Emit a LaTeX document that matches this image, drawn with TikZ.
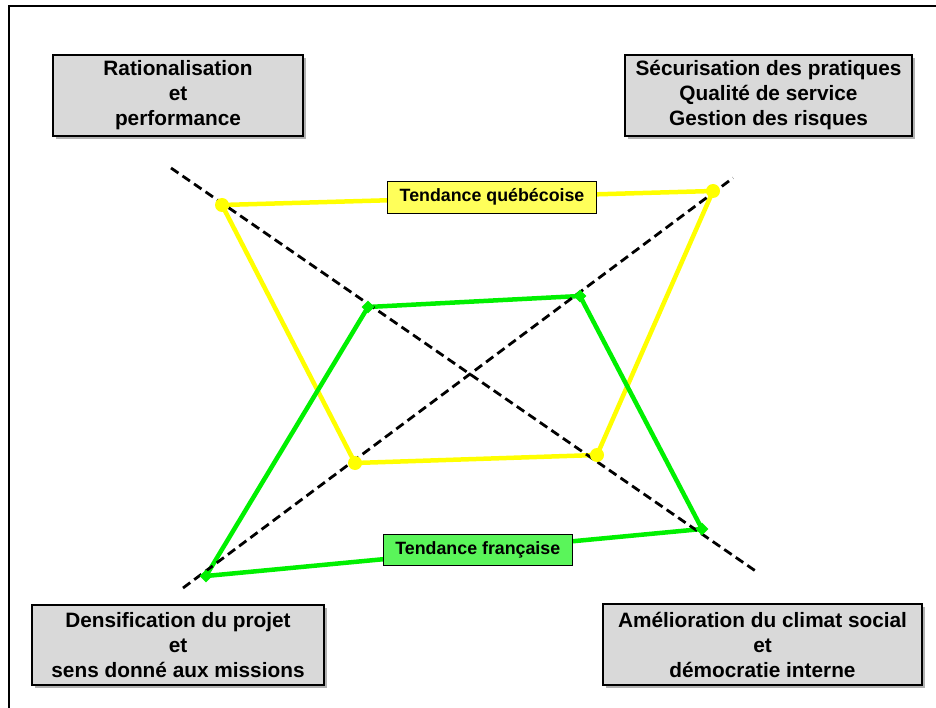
\documentclass[tikz,border=0pt]{standalone}
\usepackage{fontspec}
\setmainfont{Liberation Sans}
\usepackage{tikz}
\usetikzlibrary{shapes.geometric, shadows}
\definecolor{boxgray}{RGB}{217, 217, 217}
\definecolor{quebecyellow}{RGB}{255, 255, 0}
\definecolor{francegreen}{RGB}{0, 240, 0}
\definecolor{quebeclabel}{RGB}{255, 255, 90}
\definecolor{francelabel}{RGB}{90, 245, 90}

\begin{document}
\begin{tikzpicture}[x=1pt, y=-1pt,
    themebox/.style={draw=black, line width=1.8pt, fill=boxgray, inner sep=0pt, align=center,
        font=\fontsize{20.8}{25}\selectfont\bfseries,
        drop shadow={shadow xshift=3pt, shadow yshift=-3pt, fill=black, opacity=0.3}},
    trendlabel/.style={draw=black, line width=1.5pt, inner sep=0pt, font=\fontsize{17.8}{20}\selectfont\bfseries},
    qline/.style={quebecyellow, line width=4.5pt, line join=round},
    fline/.style={francegreen, line width=4.5pt, line join=round},
    qmark/.style={circle, fill=quebecyellow, inner sep=0pt, minimum size=14pt},
    fmark/.style={diamond, fill=francegreen, inner sep=0pt, minimum size=13pt},
    axis/.style={black, line width=2.8pt, dash pattern=on 9pt off 5pt}]
    \useasboundingbox (0,0) rectangle (936,708);

    % Frame
    \draw[line width=2.8pt] (9,720) -- (9,6) -- (950,6);

    % Theme boxes
    \node[themebox, minimum width=250pt, minimum height=81pt] (ratio) at (178,95.5) {Rationalisation\\et\\performance};
    \node[themebox, minimum width=287pt, minimum height=81pt] (secur) at (768.5,95.5) {Sécurisation des pratiques\\Qualité de service\\Gestion des risques};
    \node[themebox, minimum width=292pt, minimum height=80pt] (densi) at (178,645) {Densification du projet\\et\\sens donné aux missions};
    \node[themebox, minimum width=319pt, minimum height=81pt] (amelio) at (762.5,644.5) {Amélioration du climat social\\et\\démocratie interne};

    % Axis ends
    \coordinate (a1) at (171,168);
    \coordinate (a2) at (757,572);
    \coordinate (b1) at (183,588);
    \coordinate (b2) at (733,178);

    % Quebec trend
    \coordinate (q1) at (222,205);
    \coordinate (q2) at (713,191);
    \coordinate (q3) at (597,455);
    \coordinate (q4) at (355,463);
    \draw[qline] (q1) -- (q2) -- (q3) -- (q4) -- cycle;

    % French trend
    \coordinate (f1) at (368,307);
    \coordinate (f2) at (580,296);
    \coordinate (f3) at (702,529);
    \coordinate (f4) at (206,576);
    \draw[fline] (f1) -- (f2) -- (f3) -- (f4) -- cycle;

    % Axes
    \draw[axis] (a1) -- (a2);
    \draw[axis] (b1) -- (b2);

    % Markers
    \node[qmark] (q1m) at (q1) {};
    \node[qmark] (q2m) at (q2) {};
    \node[qmark] (q3m) at (q3) {};
    \node[qmark] (q4m) at (q4) {};
    \node[fmark] (f1m) at (f1) {};
    \node[fmark] (f2m) at (f2) {};
    \node[fmark] (f3m) at (f3) {};
    \node[fmark] (f4m) at (f4) {};

    % Trend labels
    \path (q1) -- node[trendlabel, fill=quebeclabel, minimum width=209pt, minimum height=32pt, pos=0.55] (qlab) {Tendance québécoise} (q2);
    \path (f4) -- node[trendlabel, fill=francelabel, minimum width=189pt, minimum height=31pt, pos=0.548] (flab) {Tendance française} (f3);
\end{tikzpicture}
\end{document}
